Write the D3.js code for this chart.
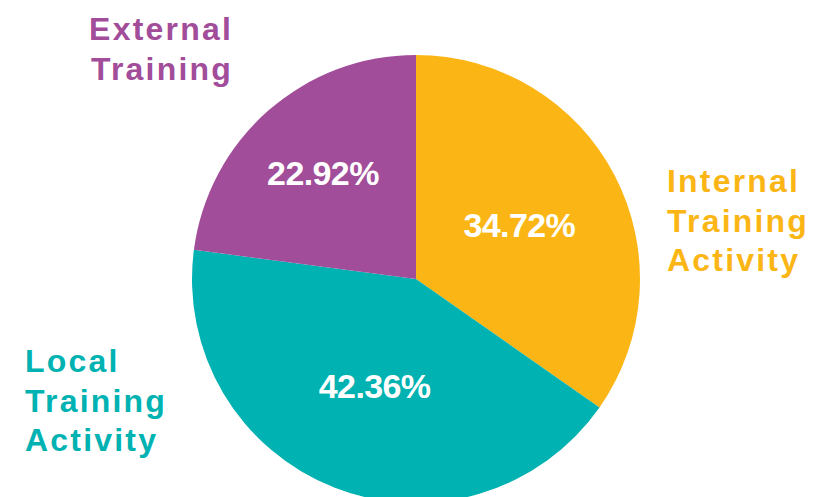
<!DOCTYPE html>
<html>
<head>
<meta charset="utf-8">
<script src="https://cdn.jsdelivr.net/npm/d3@7"></script>
<style>
  html, body { margin: 0; padding: 0; background: #fff; }
  svg { display: block; }
</style>
</head>
<body>
<svg id="chart" width="814" height="497"></svg>
<script>
// Training activity split, clockwise from 12 o'clock
const categories = ["Internal Training Activity", "Local Training Activity", "External Training"];
const shares = [34.72, 42.36, 22.92];
const shareLabels = ["34.72%", "42.36%", "22.92%"];
const nameLines = [["Internal", "Training", "Activity"], ["Local", "Training", "Activity"], ["External", "Training"]];

const colors = ["#FBB616", "#00B2B1", "#A24D9A"];

const svg = d3.select("#chart");
const cx = 416, cy = 279, radius = 224;

const pie = d3.pie().sort(null).value(d => d)(shares);
const arc = d3.arc().innerRadius(0).outerRadius(radius);

const g = svg.append("g").attr("transform", `translate(${cx},${cy})`);

g.selectAll("path.slice")
  .data(pie)
  .enter().append("path")
  .attr("class", "slice")
  .attr("d", arc)
  .attr("fill", (d, i) => colors[i]);

// value labels inside the slices, pushed out a bit more for the narrow slice
const labelFactor = [0.52, 0.51, 0.63];
g.selectAll("text.value")
  .data(pie)
  .enter().append("text")
  .attr("class", "value")
  .each(function (d, i) {
    const r = radius * labelFactor[i];
    const c = d3.arc().innerRadius(r).outerRadius(r).centroid(d);
    d3.select(this).attr("x", c[0]).attr("y", c[1]);
  })
  .attr("text-anchor", "middle")
  .attr("dy", "0.36em")
  .attr("fill", "#fff")
  .attr("font-family", "Liberation Sans, Arial, sans-serif")
  .attr("font-weight", "bold")
  .attr("font-size", 34)
  .attr("letter-spacing", -0.6)
  .text((d, i) => shareLabels[i]);

// category names around the pie
const namePlacement = [
  { x: 667, y: 192, anchor: "start" },
  { x: 25, y: 372, anchor: "start" },
  { x: 233, y: 40, anchor: "end" }
];

categories.forEach((name, i) => {
  const p = namePlacement[i];
  const t = svg.append("text")
    .attr("class", "name")
    .attr("x", p.x)
    .attr("y", p.y)
    .attr("text-anchor", p.anchor)
    .attr("fill", colors[i])
    .attr("font-family", "Liberation Sans, Arial, sans-serif")
    .attr("font-weight", "bold")
    .attr("font-size", 32)
    .attr("letter-spacing", 2.2);
  nameLines[i].forEach((line, k) => {
    t.append("tspan")
      .attr("x", p.x)
      .attr("dy", k === 0 ? 0 : 39.5)
      .text(line);
  });
});
</script>
</body>
</html>
